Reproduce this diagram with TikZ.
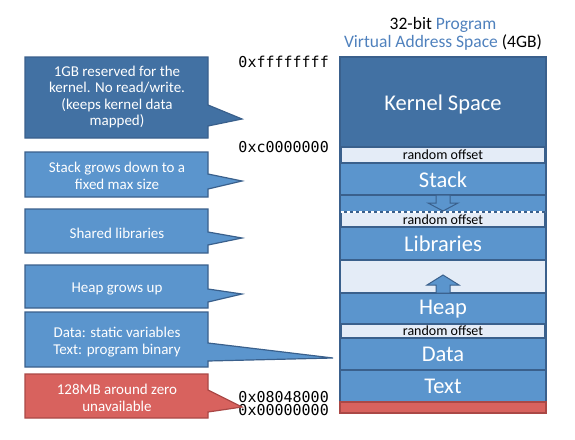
\documentclass[tikz,border=0pt]{standalone}
\usepackage{fontspec}
\setmainfont{Carlito}
\newfontfamily\addrfont{DejaVu Sans Mono}
\definecolor{dkblue}{RGB}{66,113,163}
\definecolor{ltblue}{RGB}{91,149,205}
\definecolor{edgeblue}{RGB}{58,96,140}
\definecolor{pale}{RGB}{228,236,247}
\definecolor{redf}{RGB}{216,98,94}
\definecolor{rededge}{RGB}{170,72,70}
\definecolor{titleblue}{RGB}{79,129,189}
\begin{document}
\begin{tikzpicture}[x=1pt,y=-1pt,
  seg/.style={draw=edgeblue,line width=1.2pt},
  segtext/.style={text=white,font=\fontsize{22.5}{24}\selectfont,inner sep=0pt},
  rotext/.style={text=black,font=\fontsize{14}{15}\selectfont,inner sep=0pt},
  addr/.style={anchor=east,font=\addrfont\fontsize{15}{16}\selectfont,inner sep=0pt},
  calldark/.style={fill=dkblue,draw=edgeblue,line width=1.2pt,line join=miter},
  calllight/.style={fill=ltblue,draw=edgeblue,line width=1.2pt,line join=miter},
  callred/.style={fill=redf,draw=rededge,line width=1.2pt,line join=miter},
  calltext/.style={text=white,align=center,font=\fontsize{15}{16.5}\selectfont,inner sep=0pt},
  titletext/.style={font=\fontsize{17.5}{19}\selectfont,inner sep=0pt}
]
\useasboundingbox (0,0) rectangle (575,439);

% title
\node[titletext] (t1) at (443,25) {32-bit {\color{titleblue}Program}};
\node[titletext] (t2) at (443,43) {{\color{titleblue}Virtual Address Space} (4GB)};

% column segments
\fill[edgeblue] (339,57) rectangle (547,413);
\draw[seg,fill=dkblue] (340,57) rectangle (546,147);
\draw[seg,fill=pale] (341,147) rectangle (545,163);
\draw[seg,fill=ltblue] (340,163) rectangle (546,195);
\draw[seg,fill=ltblue] (340,195) rectangle (546,212);
\draw[seg,fill=pale] (341,212) rectangle (545,227);
\draw[white,dashed,line width=1.2pt] (341,212) -- (545,212);
\draw[seg,fill=ltblue] (340,227) rectangle (546,260);
\draw[seg,fill=pale] (340,260) rectangle (546,293);
\draw[seg,fill=ltblue] (340,293) rectangle (546,324);
\draw[seg,fill=pale] (341,324) rectangle (545,338);
\draw[seg,fill=ltblue] (340,338) rectangle (546,370);
\draw[seg,fill=ltblue] (340,370) rectangle (546,402);
\draw[draw=rededge,line width=1.2pt,fill=redf] (340,402) rectangle (546,413);

% arrows
\draw[draw=edgeblue,line width=1pt,fill=ltblue,line join=miter]
  (436,195) -- (450,195) -- (450,203) -- (458,203) -- (443,211) -- (428,203) -- (436,203) -- cycle;
\draw[draw=edgeblue,line width=1pt,fill=ltblue,line join=miter]
  (443,275) -- (459,285) -- (450,285) -- (450,293) -- (436,293) -- (436,285) -- (427,285) -- cycle;

% segment labels
\node[segtext] (kern) at (443,104) {Kernel Space};
\node[rotext] (ro1) at (443,155) {random offset};
\node[segtext] (stack) at (443,180) {Stack};
\node[rotext] (ro2) at (443,219.5) {random offset};
\node[segtext] (lib) at (443,244) {Libraries};
\node[segtext] (heap) at (443,309) {Heap};
\node[rotext] (ro3) at (443,331) {random offset};
\node[segtext] (data) at (443,354) {Data};
\node[segtext] (text) at (443,386) {Text};

% addresses
\node[addr] (a1) at (329,62) {0xffffffff};
\node[addr] (a2) at (329,147) {0xc0000000};
\node[addr] (a3) at (329,397) {0x08048000};
\node[addr] (a4) at (329,410.5) {0x00000000};

% callouts
\draw[calldark] (25,57) -- (208,57) -- (208,105) -- (242,119) -- (208,126) -- (208,138) -- (25,138) -- cycle;
\node[calltext] (c1) at (117,97) {1GB reserved for the\\kernel. No read/write.\\(keeps kernel data\\mapped)};

\draw[calllight] (25,152) -- (208,152) -- (208,174) -- (242,181) -- (208,189) -- (208,197) -- (25,197) -- cycle;
\node[calltext] (c2) at (117,176) {Stack grows down to a\\fixed max size};

\draw[calllight] (25,209) -- (208,209) -- (208,232) -- (242,238) -- (208,245) -- (208,253) -- (25,253) -- cycle;
\node[calltext] (c3) at (117,233) {Shared libraries};

\draw[calllight] (25,265) -- (208,265) -- (208,289) -- (242,294) -- (208,302) -- (208,308) -- (25,308) -- cycle;
\node[calltext] (c4) at (117,289) {Heap grows up};

\draw[calllight] (25,312) -- (208,312) -- (208,343) -- (333,358) -- (208,361) -- (208,367) -- (25,367) -- cycle;
\node[calltext] (c5) at (117,342) {Data: static variables\\Text: program binary};

\draw[callred] (25,374) -- (208,374) -- (208,390) -- (242,407) -- (208,412) -- (208,418) -- (25,418) -- cycle;
\node[calltext] (c6) at (117,398) {128MB around zero\\unavailable};
\end{tikzpicture}
\end{document}
